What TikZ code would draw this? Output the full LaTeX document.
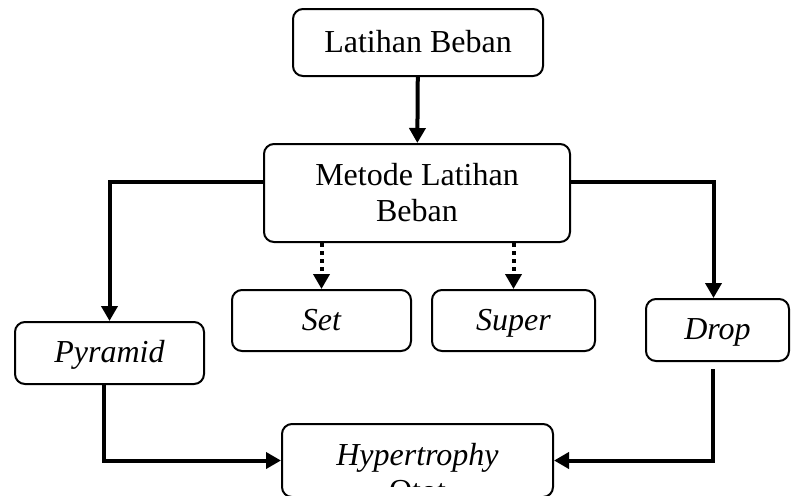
\documentclass[tikz,border=0pt]{standalone}
\usepackage{fontspec}
\setmainfont{Liberation Serif}
\usetikzlibrary{positioning,arrows.meta,calc}
\tikzset{
  fig/.style={font=\fontsize{16}{18}\selectfont},
  box/.style={draw,line width=1pt,rounded corners=5pt,align=center,inner sep=0pt},
  sbox/.style={box,text height=11.5pt,text depth=2pt},
  ibox/.style={sbox,font=\fontsize{16}{18}\selectfont\itshape},
  ln/.style={-{Triangle[length=7.5pt,width=8pt]},line width=2pt},
  dotln/.style={ln,dash pattern=on 2pt off 2pt},
}

\begin{document}
\begin{tikzpicture}[fig,x=0.5pt,y=0.5pt]
\useasboundingbox (0,0) rectangle (791,495);
\clip (0,0) rectangle (791,495);

% ------------------------------------------------ boxes
\node[sbox,minimum width=125pt,minimum height=33.5pt] (latihan) at (418,452.5) {Latihan Beban};
\node[box,minimum width=153pt,minimum height=49pt] (metode) at (417,302) {Metode Latihan\\Beban};
\node[ibox,minimum width=94.5pt,minimum height=31pt] (pyramid) at (109.5,142) {Pyramid};
\node[ibox,minimum width=89.5pt,minimum height=30.5pt] (set) at (321.5,174.5) {Set};
\node[ibox,minimum width=81.5pt,minimum height=30.5pt] (super) at (513.5,174.5) {Super};
\node[ibox,minimum width=71.5pt,minimum height=31pt] (drop) at (717.5,165) {Drop};
\node[box,minimum width=135.5pt,minimum height=36.5pt] (hyper) at (417.5,34.5) {};

% text of the last box, second line cut by the box margin
\begin{scope}
  \clip ([yshift=-1pt]hyper.north west) rectangle ([yshift=6pt]hyper.south east);
  \node[anchor=base,inner sep=0pt,font=\fontsize{16}{18}\selectfont\itshape]
    (hypertxt) at (417.5,30) {Hypertrophy};
  \node[anchor=base,inner sep=0pt] (ototxt) at (417.5,-6) {Otot};
\end{scope}

% ------------------------------------------------ connectors
\draw[ln] (latihan) -- (metode);
\draw[ln] ([yshift=5.5pt]metode.west) -| (pyramid.north);
\draw[ln] ([yshift=5.5pt]metode.east) -| ([xshift=-2pt]drop.north);
\draw[dotln] (set.north |- metode.south) -- (set.north);
\draw[dotln] (super.north |- metode.south) -- (super.north);
\draw[ln] ([xshift=-3pt]pyramid.south) |- (hyper.west);
\draw[ln] ([xshift=-2.5pt,yshift=-3.5pt]drop.south) |- (hyper.east);

\end{tikzpicture}
\end{document}
